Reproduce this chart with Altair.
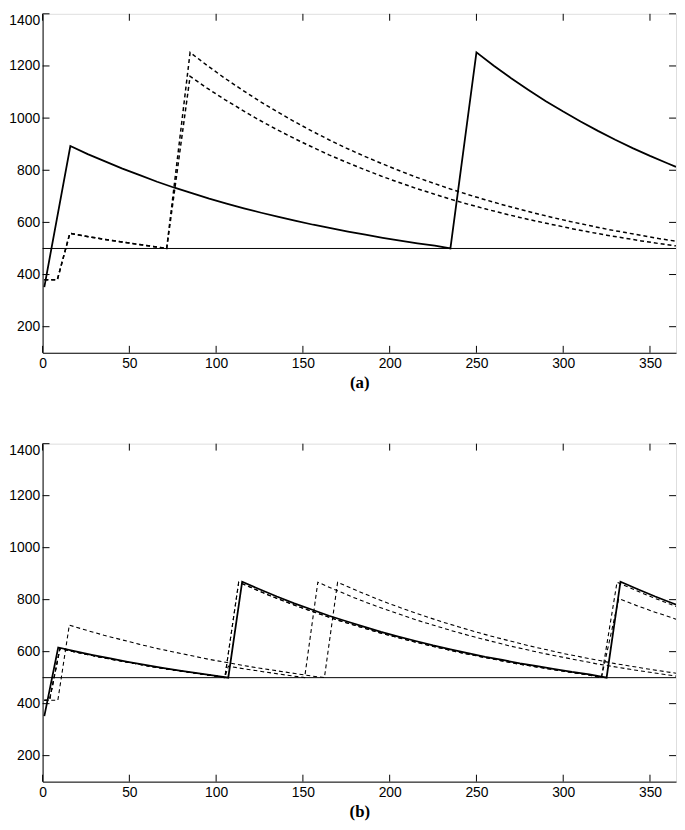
import altair as alt
import pandas as pd

# ---------------- data ----------------
X_TICKS = [0, 50, 100, 150, 200, 250, 300, 350]
Y_TICKS = [200, 400, 600, 800, 1000, 1200, 1400]
THRESHOLD = [500]

# Panel (a)
a_solid_x = [1, 16, 26, 36, 46, 56, 66, 76, 86, 96, 106, 116, 126, 136, 146, 156, 166, 176, 186, 196,
             206, 216, 226, 235, 250, 260, 270, 280, 290, 300, 310, 320, 330, 340, 350, 360, 365]
a_solid_y = [352, 893, 862, 834, 806, 781, 756, 733, 712, 691, 672, 654, 637, 621, 606, 591, 578, 565, 553, 541,
             530, 520, 511, 500, 1252, 1201, 1153, 1108, 1065, 1025, 987, 951, 917, 885, 855, 827, 813]

a_dash1_x = [1, 8.5, 15.7, 25.7, 35.7, 45.7, 55.7, 65.7, 71.5, 85, 95, 105, 115, 125, 135, 145, 155, 165, 175, 185,
             195, 205, 215, 225, 235, 245, 255, 265, 275, 285, 295, 305, 315, 325, 335, 345, 355, 365]
a_dash1_y = [380, 380, 558, 546, 535, 525, 515, 506, 500, 1252, 1201, 1153, 1108, 1065, 1025, 987, 951, 917, 885, 855,
             827, 800, 774, 751, 728, 707, 687, 668, 650, 633, 617, 602, 588, 574, 562, 550, 538, 528]

a_dash2_x = [1, 8.5, 15.7, 25.7, 35.7, 45.7, 55.7, 65.7, 71.5, 85, 95, 105, 115, 125, 135, 145, 155, 165, 175, 185,
             195, 205, 215, 225, 235, 245, 255, 265, 275, 285, 295, 305, 315, 325, 335, 345, 355, 365]
a_dash2_y = [380, 380, 558, 546, 535, 525, 515, 506, 500, 1160, 1114, 1071, 1031, 992, 956, 922, 890, 859, 831, 804,
             778, 754, 731, 710, 689, 670, 652, 635, 619, 604, 590, 576, 563, 551, 540, 529, 519, 510]

# Panel (b)
b_solid_x = [1, 9, 19, 29, 39, 49, 59, 69, 79, 89, 99, 107, 115, 125, 135, 145, 155, 165, 175, 185,
             195, 205, 215, 225, 235, 245, 255, 265, 275, 285, 295, 305, 315, 325, 333, 343, 353, 363, 365]
b_solid_y = [352, 616, 601, 587, 574, 561, 549, 538, 527, 517, 508, 500, 869, 840, 812, 786, 762, 738, 717, 696,
             676, 658, 641, 624, 609, 594, 580, 568, 555, 544, 533, 522, 513, 500, 869, 840, 812, 786, 781]

b_dash1_x = [1, 8.8, 15.4, 25.4, 35.4, 45.4, 55.4, 65.4, 75.4, 85.4, 95.4, 105.4, 115.4, 125.4, 135.4, 145.4,
             155.4, 162.4, 170, 180, 190, 200, 210, 220, 230, 240, 250, 260, 270, 280, 290, 300, 310, 320,
             330, 340, 350, 360, 365]
b_dash1_y = [413, 413, 702, 682, 663, 646, 629, 613, 599, 585, 571, 559, 547, 536, 526, 516,
             506, 500, 867, 838, 810, 784, 760, 737, 715, 695, 675, 657, 640, 623, 608, 593, 580, 567,
             554, 543, 532, 522, 517]

b_dash2_x = [1, 4, 10, 20, 30, 40, 50, 60, 70, 80, 90, 100, 105, 113, 123, 133, 143, 153, 163, 173,
             183, 193, 203, 213, 223, 233, 243, 253, 263, 273, 283, 293, 303, 313, 322, 331, 341, 351, 361, 365]
b_dash2_y = [413, 413, 612, 597, 583, 570, 558, 546, 535, 525, 515, 506, 500, 867, 838, 810, 784, 760, 737, 715,
             695, 675, 657, 640, 623, 608, 593, 580, 567, 554, 543, 532, 522, 512, 500, 867, 838, 810, 784, 774]

b_dash3_x = [1, 4, 10, 20, 30, 40, 50, 60, 70, 80, 90, 100, 105, 107, 117, 127, 137, 147, 151,
             158.6, 168.6, 178.6, 188.6, 198.6, 208.6, 218.6, 228.6, 238.6, 248.6, 258.6, 268.6, 278.6,
             288.6, 298.6, 308.6, 318.6, 328.6, 338.6, 348.6, 358.6, 365]
b_dash3_y = [413, 413, 612, 597, 583, 570, 558, 546, 535, 525, 515, 506, 500, 544, 533, 523, 513, 504, 500,
             867, 838, 810, 784, 760, 737, 715, 695, 675, 657, 640, 623, 608,
             593, 580, 567, 554, 543, 532, 522, 512, 506]

b_dash4_x = [1, 4, 10, 20, 30, 40, 50, 60, 70, 80, 90, 100, 105, 113, 123, 133, 143, 153, 163, 173,
             183, 193, 203, 213, 223, 233, 243, 253, 263, 273, 283, 293, 303, 313, 322, 332, 342, 352, 362, 365]
b_dash4_y = [413, 413, 612, 597, 583, 570, 558, 546, 535, 525, 515, 506, 500, 867, 838, 810, 784, 760, 737, 715,
             695, 675, 657, 640, 623, 608, 593, 580, 567, 554, 543, 532, 522, 512, 500, 804, 778, 754, 732, 725]

# ---------------- chart building ----------------
W = 641
H_A, H_B = 343, 342
FONT = "Liberation Sans"
TICK = 7


def series_df(pairs):
    rows = []
    for name, xs, ys in pairs:
        for x, y in zip(xs, ys):
            rows.append({"x": x, "y": y, "s": name})
    return pd.DataFrame(rows)


def panel(solid, dashed, dash_width, dash_pattern, title, H):
    xs = alt.Scale(domain=[0, 365], nice=False, zero=False)
    ys = alt.Scale(domain=[100, 1400], nice=False, zero=False)
    xaxis = alt.Axis(values=X_TICKS, ticks=False, tickSize=0, labelPadding=4, labelFontSize=14,
                     labelFont=FONT, labelColor="black", domainColor="black", grid=False,
                     titleFont="Liberation Serif", titleFontWeight="bold", titleFontSize=17,
                     titleColor="black", titlePadding=4, labelFlush=False, labelOverlap=False, format="d")
    yaxis = alt.Axis(values=Y_TICKS, ticks=False, tickSize=0, labelPadding=3, labelFontSize=14,
                     labelFont=FONT, labelColor="black", domainColor="black", grid=False,
                     labelFlush=True, labelOverlap=False, format="d")

    def X(f):
        return alt.X(f, type="quantitative", scale=xs, axis=xaxis, title=title)

    def Y(f):
        return alt.Y(f, type="quantitative", scale=ys, axis=yaxis, title=None)

    sdf = series_df(solid)
    ddf = series_df(dashed)

    thr = alt.Chart(pd.DataFrame({"y": THRESHOLD})).mark_rule(color="black", strokeWidth=1).encode(y=Y("y"))
    dash_layer = alt.Chart(ddf).mark_line(color="black", strokeWidth=dash_width, strokeDash=dash_pattern,
                                           clip=True).encode(x=X("x"), y=Y("y"), detail="s:N")
    solid_layer = alt.Chart(sdf).mark_line(color="black", strokeWidth=1.8, clip=True).encode(
        x=X("x"), y=Y("y"), detail="s:N")

    xt = pd.DataFrame({"x": X_TICKS})
    yt = pd.DataFrame({"y": Y_TICKS})
    xt_bot = alt.Chart(xt).mark_rule(color="black", strokeWidth=1).encode(
        x=X("x"), y=alt.value(H), y2=alt.value(H - TICK))
    xt_top = alt.Chart(xt).mark_rule(color="black", strokeWidth=1).encode(
        x=X("x"), y=alt.value(0), y2=alt.value(TICK))
    yt_left = alt.Chart(yt).mark_rule(color="black", strokeWidth=1).encode(
        y=Y("y"), x=alt.value(0), x2=alt.value(TICK))
    yt_right = alt.Chart(yt).mark_rule(color="black", strokeWidth=1).encode(
        y=Y("y"), x=alt.value(W - TICK), x2=alt.value(W))

    return alt.layer(thr, dash_layer, solid_layer, xt_bot, xt_top, yt_left, yt_right).properties(
        width=W, height=H)


pa = panel(
    [("A", a_solid_x, a_solid_y)],
    [("B", a_dash1_x, a_dash1_y), ("C", a_dash2_x, a_dash2_y)],
    1.5, [4, 3], "(a)", H_A)

pb = panel(
    [("A", b_solid_x, b_solid_y)],
    [("B", b_dash1_x, b_dash1_y), ("C", b_dash2_x, b_dash2_y),
     ("D", b_dash3_x, b_dash3_y), ("E", b_dash4_x, b_dash4_y)],
    1.1, [4, 3], "(b)", H_B)

chart = alt.vconcat(pa, pb, spacing=52).properties(
    padding={"left": 0, "top": 0, "right": 0, "bottom": 0}
).configure_view(stroke="black", strokeWidth=1).configure(font=FONT, background="white")

chart.save("out.html", embed_options={"renderer": "svg", "actions": False})
